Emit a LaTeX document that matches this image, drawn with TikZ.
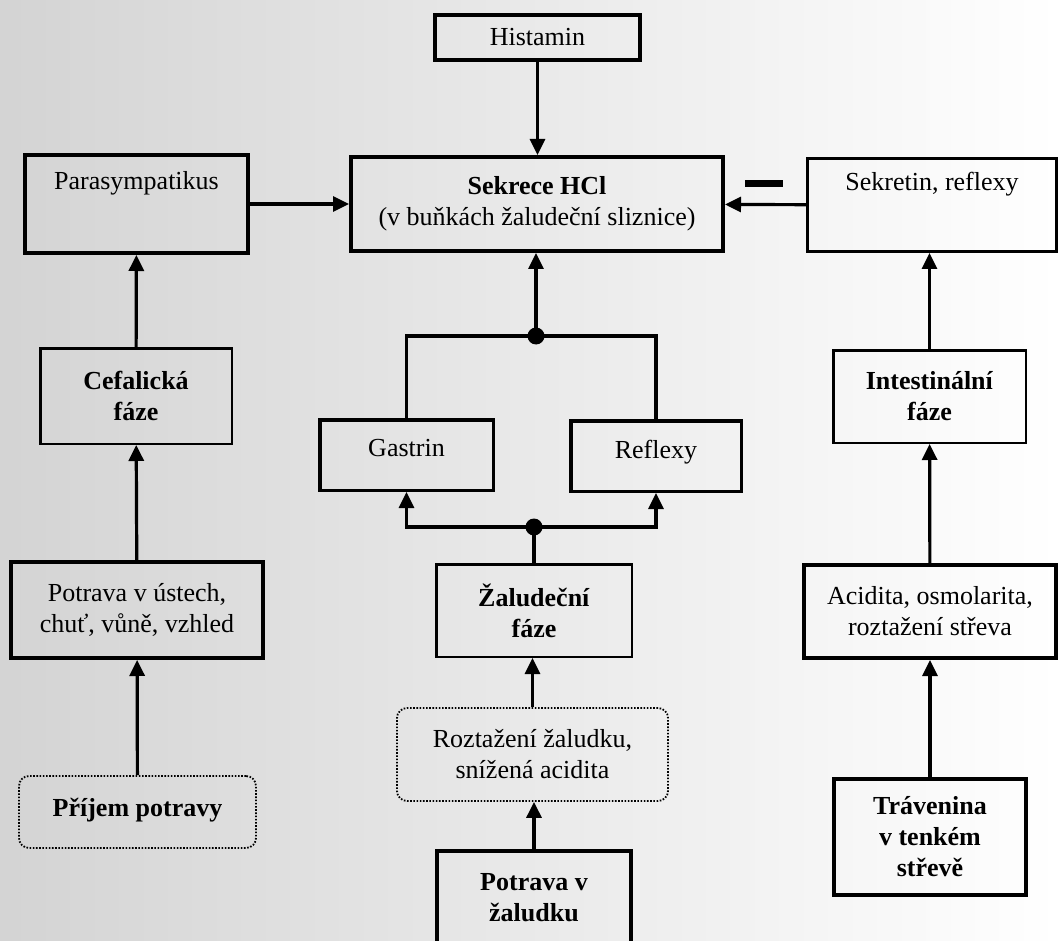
\documentclass[tikz,border=0pt]{standalone}
\usepackage{fontspec}
\setmainfont{Liberation Serif}
\usetikzlibrary{arrows.meta}
\begin{document}
\begin{tikzpicture}[x=1pt,y=-1pt,
  txt/.style={font=\fontsize{26}{31}\selectfont},
  bx/.style n args={3}{draw, line width=#3, inner sep=0pt, align=center,
    minimum width=#1, minimum height=#2, txt},
  dotbox/.style 2 args={draw, line width=1.8pt, dash pattern=on 1.6pt off 1.6pt,
    rounded corners=10pt, inner sep=0pt, align=center,
    minimum width=#1, minimum height=#2, txt},
  lift/.style={text depth=#1},
  link/.style={line width=3.2pt},
  arr/.style={link, -{Triangle[length=16pt,width=15pt]}},
  junction/.style={fill, circle, inner sep=0pt, minimum size=17pt}
]
\useasboundingbox (0,0) rectangle (1060,941);
\clip (0,0) rectangle (1060,941);
% paper tone of the page
\shade[left color=black!17, middle color=black!8, right color=white]
  (0,0) rectangle (1060,941);

% top row
\node[bx={205}{45}{4pt}] (hist) at (537.5,37.5) {Histamin};
\node[bx={372}{94}{4pt}] (sek) at (537,204)
  {\textbf{Sekrece HCl}\\(v buňkách žaludeční sliznice)};
\node[bx={223}{98}{4pt}, lift=16pt] (para) at (136.5,204) {Parasympatikus\\\mbox{}};
\node[bx={249}{93}{3pt}, lift=16pt] (sekr) at (932,205) {Sekretin, reflexy\\\mbox{}};
\node[fill, inner sep=0pt, minimum width=38pt, minimum height=7pt] (minus) at (764,184) {};

% cephalic phase
\node[bx={191.5}{95.5}{2.5pt}] (cef) at (136,396) {\textbf{Cefalická}\\\textbf{fáze}};
\node[bx={252}{96}{4pt}] (ustech) at (137,610) {Potrava v ústech,\\chuť, vůně, vzhled};
\node[dotbox={237}{72}, lift=10pt] (prijem) at (137.5,812) {\textbf{Příjem potravy}};

% gastric phase
\node[bx={173.5}{70.5}{3.5pt}, lift=14pt] (gastrin) at (406.5,455) {Gastrin};
\node[bx={170.5}{70.5}{3.5pt}, lift=14pt] (refl) at (656,456) {Reflexy};
\node[bx={195.5}{92.5}{2.5pt}] (zal) at (534,610.5) {\textbf{Žaludeční}\\\textbf{fáze}};
\node[dotbox={271}{93}] (rozt) at (532.5,754.5) {Roztažení žaludku,\\snížená acidita};
\node[bx={194}{124}{4pt}] (potzal) at (534,913) {\textbf{Potrava v}\\\textbf{žaludku}\\\mbox{}};

% intestinal phase
\node[bx={192.5}{92.5}{2.5pt}] (intest) at (929.5,396.5) {\textbf{Intestinální}\\\textbf{fáze}};
\node[bx={252}{93}{4pt}] (acid) at (930,611.5) {Acidita, osmolarita,\\roztažení střeva};
\node[bx={192}{116}{4pt}] (trav) at (930,837) {\textbf{Trávenina}\\\textbf{v tenkém}\\\textbf{střevě}};

% junction points
\node[junction] (j1) at (536,336) {};
\node[junction] (j2) at (534,527) {};

% connectors
\draw[arr] (hist) -- (hist |- sek.north);
\draw[arr] (para) -- (sek);
\draw[arr] (sekr) -- (sek);
\draw[arr] (cef) -- (para);
\draw[arr] (ustech) -- (cef);
\draw[arr] (prijem) -- (ustech);

\draw[link] (gastrin.north) |- (j1.center) -| (refl.north);
\draw[arr] (j1.center) -- (j1 |- sek.south);
\draw[arr] (j2.center) -| (gastrin.south);
\draw[arr] (j2.center) -| (refl.south);
\draw[link] (zal.north) -- (j2.center);
\draw[arr] (rozt) -- (rozt |- zal.south);
\draw[arr] (potzal) -- (potzal |- rozt.south);

\draw[arr] (intest.north) -- (intest |- sekr.south);
\draw[arr] (acid) -- (intest);
\draw[arr] (trav) -- (acid);
\end{tikzpicture}
\end{document}
